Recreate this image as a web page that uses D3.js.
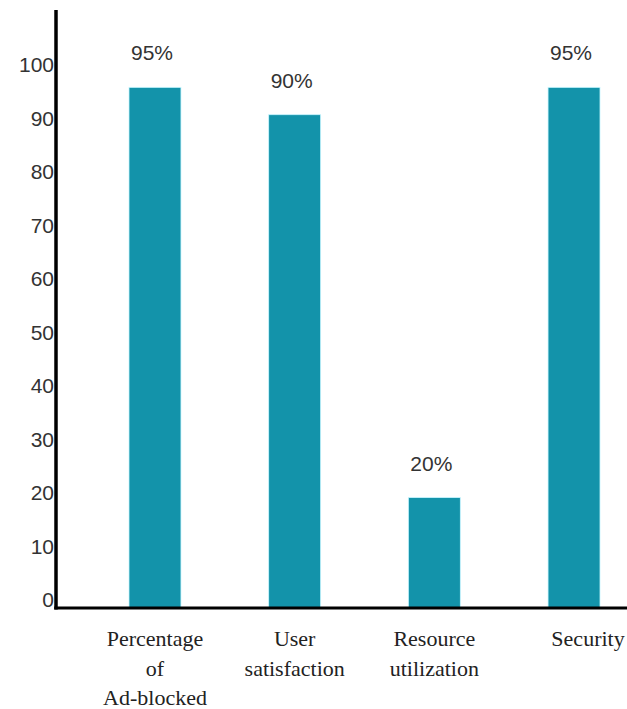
<!DOCTYPE html>
<html>
<head>
<meta charset="utf-8">
<script src="https://cdn.jsdelivr.net/npm/d3@7"></script>
<style>
  html, body { margin: 0; padding: 0; background: #fff; }
  svg { display: block; }
  .serif { font-family: "Liberation Serif", "DejaVu Serif", "Times New Roman", Times, serif; }
  .sans { font-family: "Liberation Sans", Arial, sans-serif; }
</style>
</head>
<body>
<script>
// ---- data ----
const categories = [
  ["Percentage", "of", "Ad-blocked"],
  ["User", "satisfaction"],
  ["Resource", "utilization"],
  ["Security"]
];
const categoryKeys = ["Percentage of Ad-blocked", "User satisfaction", "Resource utilization", "Security"];
const values = [95, 90, 20, 95];
const valueLabels = ["95%", "90%", "20%", "95%"];
const yTicks = [0, 10, 20, 30, 40, 50, 60, 70, 80, 90, 100];

// ---- layout ----
const W = 627, H = 709;
const axisX = 56, axisY = 608;
const svg = d3.select("body").append("svg").attr("width", W).attr("height", H);

// bar scale and (slightly offset, as in the reference) tick label scale
const y = d3.scaleLinear().domain([0, 100]).range([607, 60]);
const yAxisScale = d3.scaleLinear().domain([0, 100]).range([600, 65]);
const x = d3.scaleBand().domain(categoryKeys).range([axisX, 673])
  .paddingInner(0.628).paddingOuter(0.5226);

// bars
svg.selectAll("rect.bar").data(values).enter().append("rect")
  .attr("class", "bar")
  .attr("x", (d, i) => x(categoryKeys[i]))
  .attr("width", x.bandwidth())
  .attr("y", d => y(d))
  .attr("height", d => axisY - y(d))
  .attr("fill", "#1393aa")
  .attr("stroke", "#c8f6ff")
  .attr("stroke-width", 0.8);

// value labels
svg.selectAll("text.val").data(values).enter().append("text")
  .attr("class", "val sans")
  .attr("x", (d, i) => x(categoryKeys[i]) + x.bandwidth() / 2 - 3)
  .attr("y", d => y(d) - 27)
  .attr("text-anchor", "middle")
  .attr("font-size", 21)
  .attr("fill", "#333")
  .text((d, i) => valueLabels[i]);

// y tick labels
svg.selectAll("text.ytick").data(yTicks).enter().append("text")
  .attr("class", "ytick sans")
  .attr("x", axisX - 2)
  .attr("y", d => yAxisScale(d))
  .attr("dy", "0.35em")
  .attr("text-anchor", "end")
  .attr("font-size", 21)
  .attr("fill", "#333")
  .text(d => d);

// axes lines
svg.append("line")
  .attr("x1", axisX).attr("x2", axisX)
  .attr("y1", 10).attr("y2", axisY + 1.5)
  .attr("stroke", "#000").attr("stroke-width", 3.5);
svg.append("line")
  .attr("x1", axisX - 1.75).attr("x2", W)
  .attr("y1", axisY).attr("y2", axisY)
  .attr("stroke", "#000").attr("stroke-width", 3);

// category labels
const cat = svg.selectAll("text.cat").data(categories).enter().append("text")
  .attr("class", "cat serif")
  .attr("text-anchor", "middle")
  .attr("font-size", 22)
  .attr("fill", "#222")
  .attr("transform", (d, i) => `translate(${x(categoryKeys[i]) + x.bandwidth() / 2 + (i === 3 ? 14 : 0)},646)`);
cat.selectAll("tspan").data(d => d).enter().append("tspan")
  .attr("x", 0)
  .attr("y", (d, j) => j * 29.5)
  .text(d => d);
</script>
</body>
</html>
